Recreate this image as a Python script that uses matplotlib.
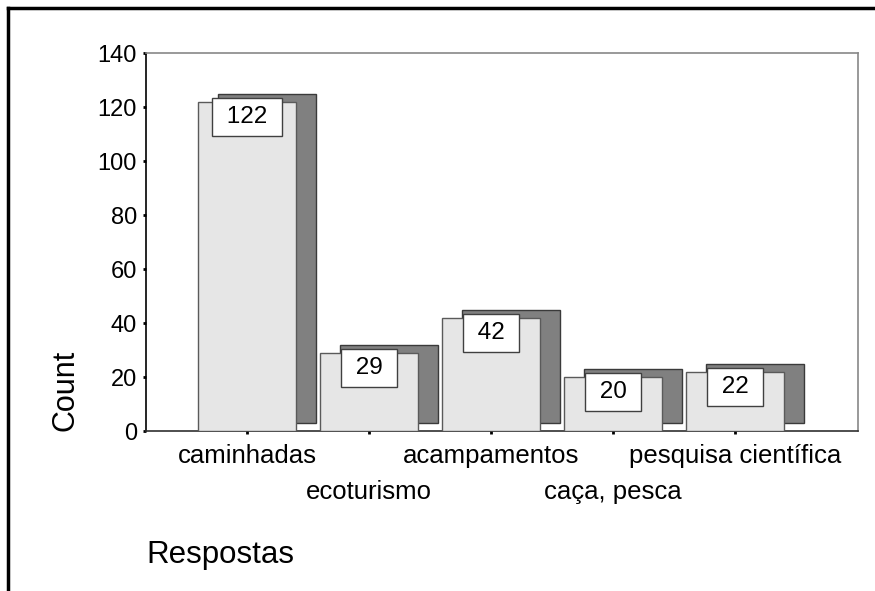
import matplotlib.pyplot as plt
from matplotlib.lines import Line2D

plt.rcParams['font.family'] = ['Liberation Sans', 'DejaVu Sans']

# data
categories = ['caminhadas', 'ecoturismo', 'acampamentos', 'caça, pesca', 'pesquisa científica']
counts = [122, 29, 42, 20, 22]
yticks = [0, 20, 40, 60, 80, 100, 120, 140]

# look of the SPSS style 3D bars
barWidth = 0.80
shadowDx = 0.164
shadowDy = 2.8
frontColor = '#e6e6e6'
shadowColor = '#808080'

fig = plt.figure(figsize=(8.75, 5.91), dpi=100, facecolor='white')
ax = fig.add_axes([146 / 875, 160 / 591, 712 / 875, 378 / 591])

xs = list(range(len(categories)))

# shadow bars first, then the front bars over them
ax.bar([x + shadowDx for x in xs], counts, width=barWidth, bottom=shadowDy,
       color=shadowColor, edgecolor='#3a3a3a', linewidth=1, zorder=2)
ax.bar(xs, counts, width=barWidth, color=frontColor,
       edgecolor='#5a5a5a', linewidth=1, zorder=3)

# value labels in white boxes
for x, v in zip(xs, counts):
    ax.text(x, v - 1.6, ' %d ' % v, ha='center', va='top', fontsize=17.5, zorder=4,
            bbox=dict(boxstyle='square,pad=0.33', fc='white', ec='#404040', lw=1))

ax.set_xlim(-0.83, 5.01)
ax.set_ylim(0, 140)
ax.set_yticks(yticks)
ax.set_xticks(xs)
ax.set_xticklabels(categories, fontsize=18.5)
ax.tick_params(axis='y', labelsize=17, length=2.5, width=2, pad=4, direction='out')
ax.tick_params(axis='x', length=2.5, width=2, direction='out')

# staggered category labels
for i, tick in enumerate(ax.xaxis.get_major_ticks()):
    tick.set_pad(7 if i % 2 == 0 else 33)

ax.spines['left'].set_color('black')
ax.spines['bottom'].set_color('#303030')
ax.spines['top'].set_color('#888888')
ax.spines['right'].set_color('#888888')
for s in ax.spines.values():
    s.set_linewidth(1.2)

ax.set_ylabel('Count', fontsize=22, loc='bottom', labelpad=12)
ax.set_xlabel('Respostas', fontsize=22.5, loc='left', labelpad=26)

# outer frame (left and top only visible)
fig.add_artist(Line2D([8 / 875, 8 / 875], [0, 1 - 8 / 591], transform=fig.transFigure,
                      color='black', linewidth=2.5))
fig.add_artist(Line2D([8 / 875, 1], [1 - 8 / 591, 1 - 8 / 591], transform=fig.transFigure,
                      color='black', linewidth=2.5))

fig.savefig('out.png', dpi=100)
